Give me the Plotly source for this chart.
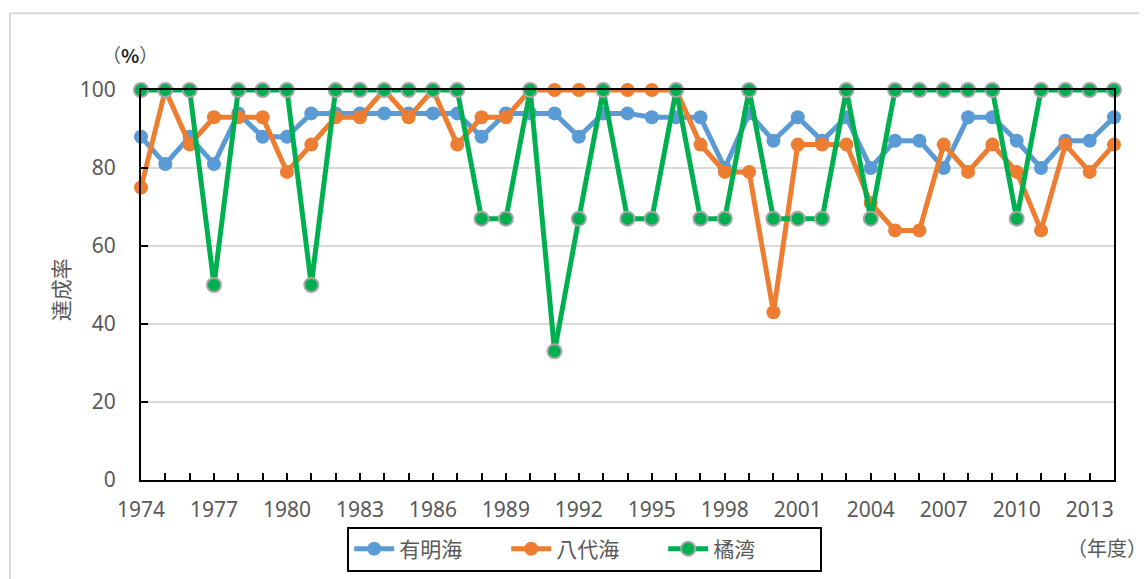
import plotly.graph_objects as go

years = list(range(1974, 2015))
ariake = [88, 81, 88, 81, 94, 88, 88, 94, 94, 94, 94, 94, 94, 94, 88, 94, 94, 94, 88, 94,
          94, 93, 93, 93, 80, 94, 87, 93, 87, 93, 80, 87, 87, 80, 93, 93, 87, 80, 87, 87, 93]
yatsushiro = [75, 100, 86, 93, 93, 93, 79, 86, 93, 93, 100, 93, 100, 86, 93, 93, 100, 100, 100, 100,
              100, 100, 100, 86, 79, 79, 43, 86, 86, 86, 71, 64, 64, 86, 79, 86, 79, 64, 86, 79, 86]
tachibana = [100, 100, 100, 50, 100, 100, 100, 50, 100, 100, 100, 100, 100, 100, 67, 67, 100, 33, 67, 100,
             67, 67, 100, 67, 67, 100, 67, 67, 67, 100, 67, 100, 100, 100, 100, 100, 67, 100, 100, 100, 100]
series_names = ["有明海", "八代海", "橘湾"]
tick_labels = [str(y) if (y - 1974) % 3 == 0 else "" for y in years]

GREY = "#595959"
CJK = "Noto Sans CJK JP"

fig = go.Figure()
fig.add_trace(go.Scatter(x=years, y=ariake, name=series_names[0], mode="lines+markers",
                         line=dict(color="#5B9BD5", width=5),
                         marker=dict(color="#5B9BD5", size=14), cliponaxis=False))
fig.add_trace(go.Scatter(x=years, y=yatsushiro, name=series_names[1], mode="lines+markers",
                         line=dict(color="#ED7D31", width=5),
                         marker=dict(color="#ED7D31", size=14), cliponaxis=False))
fig.add_trace(go.Scatter(x=years, y=tachibana, name=series_names[2], mode="lines+markers",
                         line=dict(color="#00B050", width=5),
                         marker=dict(color="#00B050", size=14, line=dict(color="#A5A5A5", width=2)),
                         cliponaxis=False))

# page body has an 8px margin: figure is offset by (8, 8)
fig.update_layout(
    width=1139, height=571,
    margin=dict(l=133, r=33, t=82, b=99, autoexpand=False),
    paper_bgcolor="white", plot_bgcolor="white",
    font=dict(family="Noto Sans", color=GREY, size=21),
    showlegend=True,
    legend=dict(orientation="h", x=0.456, y=-0.177, xanchor="center", yanchor="middle",
                bordercolor="black", borderwidth=2, font=dict(family=CJK, size=21, color=GREY),
                itemwidth=40, entrywidth=102, tracegroupgap=0),
    xaxis=dict(range=[1974, 2014], tickmode="array", tickvals=years, ticktext=tick_labels,
               ticks="inside", ticklen=7, tickcolor="black", tickwidth=1.5,
               showline=True, linecolor="black", linewidth=2, mirror=True,
               showgrid=False, zeroline=False, ticklabelstandoff=10, automargin=False,
               tickfont=dict(family="Noto Sans", size=21, color=GREY)),
    yaxis=dict(range=[0, 100], tickvals=[0, 20, 40, 60, 80, 100],
               ticks="inside", ticklen=7, tickcolor="black", tickwidth=1.5,
               showline=True, linecolor="black", linewidth=2, mirror=True,
               showgrid=True, gridcolor="#D9D9D9", gridwidth=2, zeroline=False,
               ticklabelstandoff=19, automargin=False,
               tickfont=dict(family="Noto Sans", size=21, color=GREY)),
    annotations=[
        dict(text="（<b><span style='color:#262626'>%</span></b>）", x=-0.011, y=1.09,
             xref="paper", yref="paper", showarrow=False,
             font=dict(family=CJK, size=19, color=GREY), xanchor="center", yanchor="middle"),
        dict(text="達成率", x=-0.083, y=0.487, xref="paper", yref="paper", showarrow=False,
             textangle=-90, font=dict(family=CJK, size=21, color=GREY),
             xanchor="center", yanchor="middle"),
        dict(text="（年度）", x=1.036, y=-0.172, xref="paper", yref="paper", showarrow=False,
             font=dict(family=CJK, size=20, color=GREY), xanchor="right", yanchor="middle"),
    ],
    shapes=[
        dict(type="line", xref="paper", yref="paper", x0=-0.1346, x1=-0.1346, y0=1.197, y1=-0.3,
             line=dict(color="#D9D9D9", width=2)),
        dict(type="line", xref="paper", yref="paper", x0=-0.1346, x1=1.1, y0=1.197, y1=1.197,
             line=dict(color="#D9D9D9", width=2)),
    ],
)

fig.write_html("out.html")
